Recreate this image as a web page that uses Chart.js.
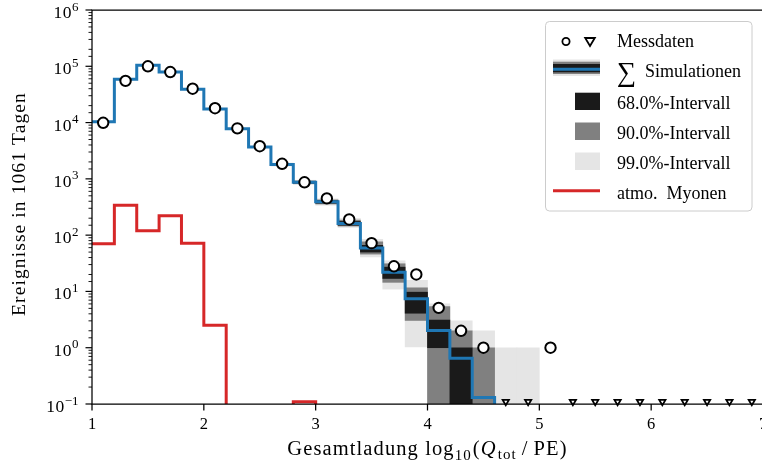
<!DOCTYPE html>
<html lang="de">
<head>
<meta charset="utf-8">
<title>Gesamtladung</title>
<script src="https://cdn.jsdelivr.net/npm/chart.js"></script>
<style>
  html, body { margin: 0; padding: 0; overflow: hidden; background: #fff; }
  #wrap { width: 800px; height: 470px; }
</style>
</head>
<body>
<div id="wrap"><canvas id="chart" width="800" height="470"></canvas></div>
<script>
// bins in log10(Q_tot / PE), width 0.2
const binEdges = [1.0, 1.2, 1.4, 1.6, 1.8, 2.0, 2.2, 2.4, 2.6, 2.8, 3.0, 3.2, 3.4, 3.6, 3.8, 4.0, 4.2, 4.4, 4.6, 4.8, 5.0];

// sum of simulations per bin (0.001 = empty, below the axis)
const simSum = [1.03e4, 5.9e4, 1.04e5, 7.9e4, 3.9e4, 1.75e4, 7.8e3, 3.7e3, 1.8e3, 870, 390, 161, 59, 22, 7.4, 2.03, 0.65, 0.13, 0.001, 0.001];

// atmospheric muons per bin
const muons = [70, 340, 120, 220, 72, 2.5, 0.001, 0.001, 0.001, 0.11, 0.001, 0.001, 0.001, 0.001, 0.001, 0.001, 0.001, 0.001, 0.001, 0.001];

// measured data
const dataCenters = [1.1, 1.3, 1.5, 1.7, 1.9, 2.1, 2.3, 2.5, 2.7, 2.9, 3.1, 3.3, 3.5, 3.7, 3.9, 4.1, 4.3, 4.5, 5.1];
const dataValues = [9.9e3, 5.5e4, 1.0e5, 7.9e4, 4.0e4, 1.8e4, 7.9e3, 3.8e3, 1.85e3, 870, 450, 190, 72, 28, 20, 5.1, 2.0, 1.0, 1.0];

// empty bins (upper limits)
const limitCenters = [4.7, 4.9, 5.3, 5.5, 5.7, 5.9, 6.1, 6.3, 6.5, 6.7, 6.9];
const limitValues = [0.11, 0.11, 0.11, 0.11, 0.11, 0.11, 0.11, 0.11, 0.11, 0.11, 0.11];

// intervals of the simulation, per bin
const bandCenters = [2.7, 2.9, 3.1, 3.3, 3.5, 3.7, 3.9, 4.1, 4.3, 4.5, 4.7, 4.9];
const band68Lo = [1760, 840, 370, 150, 50, 17, 4.1, 1.0, 0.001, null, null, null];
const band68Hi = [1840, 900, 410, 175, 66, 27, 9.7, 3.1, 1, null, null, null];
const band90Lo = [1730, 820, 358, 145, 46, 14.5, 3.05, 0.001, 0.001, 0.001, null, null];
const band90Hi = [1870, 920, 423, 185, 76, 31, 11.6, 5.4, 2, 1, null, null];
const band99Lo = [1690, 795, 340, 137, 41, 11, 1.03, 0.001, 0.001, 0.001, 0.001, 0.001];
const band99Hi = [1910, 945, 442, 198, 84, 35, 15.7, 6, 3, 2, 1, 1];

const BLUE = '#1f77b4', RED = '#d62728';
const DARK = '#1a1a1a', MID = '#808080', LIGHT = '#e5e5e5';
const SERIF = '"Liberation Serif", "DejaVu Serif", serif';

function stepData(values) {
  const pts = values.map((v, i) => ({x: binEdges[i], y: v}));
  pts.push({x: binEdges[values.length], y: values[values.length - 1]});
  return pts;
}
function bandData(lo, hi) {
  return bandCenters.map((c, i) => ({x: c, y: [lo[i], hi[i]]})).filter(d => d.y[0] !== null);
}
function bandSet(lo, hi, color, order) {
  return {type: 'bar', data: bandData(lo, hi), backgroundColor: color, borderWidth: 0,
    grouped: false, barPercentage: 1, categoryPercentage: 1, order: order};
}

const decor = {
  id: 'decor',
  afterDraw(chart) {
    const {ctx, chartArea: a, scales: {x, y}} = chart;
    ctx.save();
    ctx.strokeStyle = '#000';
    ctx.fillStyle = '#000';

    // spines
    ctx.lineWidth = 1.25;
    ctx.beginPath();
    ctx.moveTo(a.right + 2, a.top); ctx.lineTo(a.left, a.top);
    ctx.lineTo(a.left, a.bottom); ctx.lineTo(a.right + 2, a.bottom);
    ctx.stroke();

    // x ticks
    x.ticks.forEach(t => {
      const px = x.getPixelForValue(t.value);
      ctx.beginPath(); ctx.moveTo(px, a.bottom); ctx.lineTo(px, a.bottom + 6.5); ctx.stroke();
    });

    // y ticks (major + minor) and labels 10^n
    y.ticks.forEach(t => {
      const lg = Math.log10(t.value);
      const e = Math.round(lg);
      const major = Math.abs(lg - e) < 1e-6;
      const py = y.getPixelForValue(t.value);
      ctx.lineWidth = major ? 1.2 : 0.9;
      ctx.beginPath(); ctx.moveTo(a.left, py); ctx.lineTo(a.left - (major ? 6.5 : 3.5), py); ctx.stroke();
      if (!major) return;
      const expText = e < 0 ? '\u2212' + (-e) : String(e);
      ctx.font = '13px ' + SERIF;
      const ew = ctx.measureText(expText).width;
      ctx.textAlign = 'left';
      ctx.textBaseline = 'alphabetic';
      ctx.fillText(expText, 78.5 - ew, py + 0.5);
      ctx.font = '17.5px ' + SERIF;
      ctx.letterSpacing = '0.5px';
      ctx.textAlign = 'right';
      ctx.fillText('10', 78.5 - ew, py + 8);
      ctx.letterSpacing = '0px';
    });

    // y axis title
    ctx.save();
    ctx.translate(24.5, 204);
    ctx.rotate(-Math.PI / 2);
    ctx.font = '19.5px ' + SERIF;
    ctx.letterSpacing = '1.1px';
    ctx.textAlign = 'center';
    ctx.textBaseline = 'alphabetic';
    ctx.fillText('Ereignisse in 1061 Tagen', 0, 0);
    ctx.restore();

    // x axis title with sub scripts
    const parts = [
      {t: 'Gesamtladung log', f: '20.5px ' + SERIF, dy: 0},
      {t: '10', f: '15px ' + SERIF, dy: 4.5},
      {t: '(', f: '20.5px ' + SERIF, dy: 0, pre: 1},
      {t: 'Q', f: 'italic 20.5px ' + SERIF, dy: 0},
      {t: 'tot', f: '15px ' + SERIF, dy: 4, pre: 1},
      {t: '/', f: '20.5px ' + SERIF, dy: 0, pre: 5},
      {t: 'PE)', f: '20.5px ' + SERIF, dy: 0, pre: 5}
    ];
    ctx.letterSpacing = '1.1px';
    let total = 0;
    parts.forEach(p => { ctx.font = p.f; p.w = ctx.measureText(p.t).width; total += p.w + (p.pre || 0); });
    let cx = (a.left + a.right) / 2 - total / 2;
    ctx.textAlign = 'left';
    parts.forEach(p => {
      cx += p.pre || 0;
      ctx.font = p.f;
      ctx.fillText(p.t, cx, 455 + p.dy);
      cx += p.w;
    });
    ctx.letterSpacing = '0px';

    // legend
    ctx.beginPath();
    ctx.roundRect(545.5, 21.5, 206.5, 189.5, 4);
    ctx.fillStyle = 'rgba(255,255,255,0.85)';
    ctx.fill();
    ctx.strokeStyle = '#cccccc';
    ctx.lineWidth = 1;
    ctx.stroke();

    ctx.strokeStyle = '#000';
    ctx.fillStyle = '#fff';
    ctx.lineWidth = 1.8;
    ctx.beginPath(); ctx.arc(566, 41.5, 3.6, 0, Math.PI * 2); ctx.fill(); ctx.stroke();
    ctx.beginPath(); ctx.moveTo(585.2, 38); ctx.lineTo(594.8, 38); ctx.lineTo(590, 46); ctx.closePath();
    ctx.fill(); ctx.stroke();

    ctx.fillStyle = LIGHT; ctx.fillRect(553, 59.5, 47, 16.5);
    ctx.fillStyle = MID; ctx.fillRect(553, 61.7, 47, 12.3);
    ctx.fillStyle = DARK; ctx.fillRect(553, 64, 47, 8.3);
    ctx.strokeStyle = BLUE; ctx.lineWidth = 3;
    ctx.beginPath(); ctx.moveTo(553, 69.2); ctx.lineTo(600, 69.2); ctx.stroke();

    ctx.fillStyle = DARK; ctx.fillRect(575, 92.7, 25, 17.3);
    ctx.fillStyle = MID; ctx.fillRect(575, 122.5, 25, 17.5);
    ctx.fillStyle = LIGHT; ctx.fillRect(575, 152.5, 25, 17.5);
    ctx.strokeStyle = RED; ctx.lineWidth = 3;
    ctx.beginPath(); ctx.moveTo(553, 190.7); ctx.lineTo(600, 190.7); ctx.stroke();

    ctx.fillStyle = '#000';
    ctx.textAlign = 'left';
    ctx.font = '18px ' + SERIF;
    ctx.fillText('Messdaten', 617, 47);
    ctx.fillText('Simulationen', 645, 76.5);
    ctx.fillText('68.0%-Intervall', 617, 109.3);
    ctx.fillText('90.0%-Intervall', 617, 139.3);
    ctx.fillText('99.0%-Intervall', 617, 169.2);
    ctx.fillText('atmo.  Myonen', 617, 199);
    ctx.font = '27px ' + SERIF;
    ctx.fillText('\u2211', 617, 81);
    ctx.restore();
  }
};

new Chart(document.getElementById('chart'), {
  type: 'line',
  data: {
    datasets: [
      bandSet(band99Lo, band99Hi, LIGHT, 9),
      bandSet(band90Lo, band90Hi, MID, 8),
      bandSet(band68Lo, band68Hi, DARK, 7),
      {type: 'line', data: stepData(muons), stepped: 'before', borderColor: RED, borderWidth: 3,
        pointRadius: 0, fill: false, order: 4},
      {type: 'line', data: stepData(simSum), stepped: 'before', borderColor: BLUE, borderWidth: 3,
        pointRadius: 0, fill: false, order: 3},
      {type: 'line', data: limitCenters.map((c, i) => ({x: c, y: limitValues[i]})), showLine: false,
        pointStyle: 'triangle', rotation: 180, pointRadius: 3.6, borderWidth: 1.8,
        borderColor: '#000', backgroundColor: '#fff', clip: false, order: 2},
      {type: 'line', data: dataCenters.map((c, i) => ({x: c, y: dataValues[i]})), showLine: false,
        pointStyle: 'circle', pointRadius: 5.2, borderWidth: 2,
        borderColor: '#000', backgroundColor: '#fff', clip: false, order: 1}
    ]
  },
  options: {
    responsive: false,
    animation: false,
    devicePixelRatio: 1,
    layout: {padding: {left: 0, right: 37, top: 10, bottom: 0}},
    plugins: {legend: {display: false}, tooltip: {enabled: false}},
    scales: {
      x: {
        type: 'linear', min: 1, max: 7, offset: false,
        grid: {display: false, drawTicks: false}, border: {display: false},
        ticks: {stepSize: 1, padding: 11, color: '#000', font: {family: SERIF, size: 16.5},
          callback: v => Number.isInteger(v) ? String(v) : ''},
        afterFit: s => { s.height = 66; }
      },
      y: {
        type: 'logarithmic', min: 0.1, max: 1e6,
        grid: {display: false, drawTicks: false}, border: {display: false},
        ticks: {display: false, autoSkip: false},
        afterFit: s => { s.width = 92; }
      }
    }
  },
  plugins: [decor]
});
</script>
</body>
</html>
